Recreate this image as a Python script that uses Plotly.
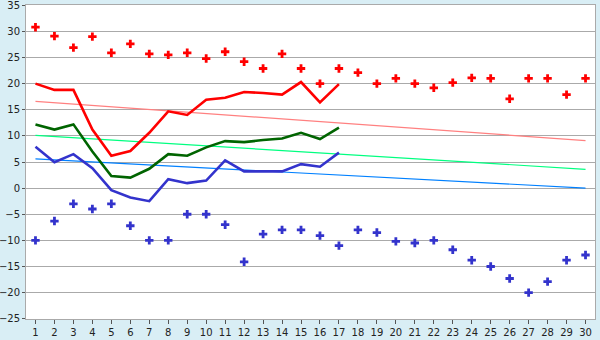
import plotly.graph_objects as go

days = list(range(1, 31))
max_temp = [30.8, 29.1, 26.9, 29.0, 25.9, 27.6, 25.7, 25.5, 25.9, 24.8,
            26.1, 24.2, 22.9, 25.7, 22.9, 20.0, 22.9, 22.1, 20.0, 21.0,
            20.0, 19.2, 20.2, 21.1, 21.0, 17.1, 21.0, 21.0, 17.9, 21.0]
min_temp = [-10.0, -6.3, -3.0, -4.0, -3.0, -7.2, -10.0, -10.0, -5.0, -5.0,
            -7.0, -14.1, -8.8, -8.0, -8.0, -9.1, -11.0, -8.0, -8.5, -10.2,
            -10.5, -10.0, -11.8, -13.8, -15.0, -17.3, -20.0, -17.9, -13.8, -12.8]
line_days = list(range(1, 18))
max_line = [20.0, 18.8, 18.8, 11.2, 6.2, 7.1, 10.6, 14.7, 14.0, 16.9,
            17.3, 18.4, 18.2, 17.9, 20.3, 16.4, 19.9]
avg_line = [12.2, 11.2, 12.2, 7.0, 2.3, 2.0, 3.7, 6.5, 6.2, 7.8,
            9.0, 8.8, 9.2, 9.5, 10.6, 9.4, 11.6]
min_line = [7.9, 4.95, 6.5, 3.8, -0.4, -1.8, -2.5, 1.7, 0.95, 1.45,
            5.3, 3.2, 3.2, 3.2, 4.6, 4.1, 6.8]
trend_days = [1, 30]
trend_max = [16.6, 9.1]
trend_avg = [10.1, 3.6]
trend_min = [5.6, 0.0]
y_ticks = list(range(-25, 40, 5))

fig = go.Figure()
fig.add_trace(go.Scatter(x=trend_days, y=trend_max, mode="lines",
                         line=dict(color="#ff8080", width=1.2)))
fig.add_trace(go.Scatter(x=trend_days, y=trend_avg, mode="lines",
                         line=dict(color="#00ff80", width=1.2)))
fig.add_trace(go.Scatter(x=trend_days, y=trend_min, mode="lines",
                         line=dict(color="#0080ff", width=1.2)))
fig.add_trace(go.Scatter(x=line_days, y=max_line, mode="lines",
                         line=dict(color="#ff0000", width=2.6)))
fig.add_trace(go.Scatter(x=line_days, y=avg_line, mode="lines",
                         line=dict(color="#006400", width=2.6)))
fig.add_trace(go.Scatter(x=line_days, y=min_line, mode="lines",
                         line=dict(color="#3333cc", width=2.6)))
fig.add_trace(go.Scatter(x=days, y=max_temp, mode="markers",
                         marker=dict(symbol="cross", size=7, color="#ff0000", line=dict(width=0))))
fig.add_trace(go.Scatter(x=days, y=min_temp, mode="markers",
                         marker=dict(symbol="cross", size=7, color="#3333cc", line=dict(width=0))))

fig.update_layout(
    width=600, height=340,
    margin=dict(l=26, r=5, t=5, b=21),
    paper_bgcolor="#d9eef5",
    plot_bgcolor="#ffffff",
    showlegend=False,
    font=dict(family="DejaVu Sans", size=10, color="#222222"),
)
fig.update_xaxes(range=[0.5, 30.5], tickmode="array", tickvals=days,
                 showgrid=False, showline=True, linecolor="#aaaaaa", linewidth=1,
                 mirror=True, ticks="outside", ticklen=4, tickcolor="#555555",
                 zeroline=False, automargin=False, ticklabeloverflow="allow")
fig.update_yaxes(range=[-25.05, 35.05], tickmode="array", tickvals=y_ticks,
                 showgrid=True, gridcolor="#aaaaaa", gridwidth=1,
                 showline=True, linecolor="#aaaaaa", linewidth=1, mirror=True,
                 ticks="outside", ticklen=3, tickcolor="#555555",
                 zeroline=False, automargin=False, ticklabeloverflow="allow")

fig.write_html("out.html")
